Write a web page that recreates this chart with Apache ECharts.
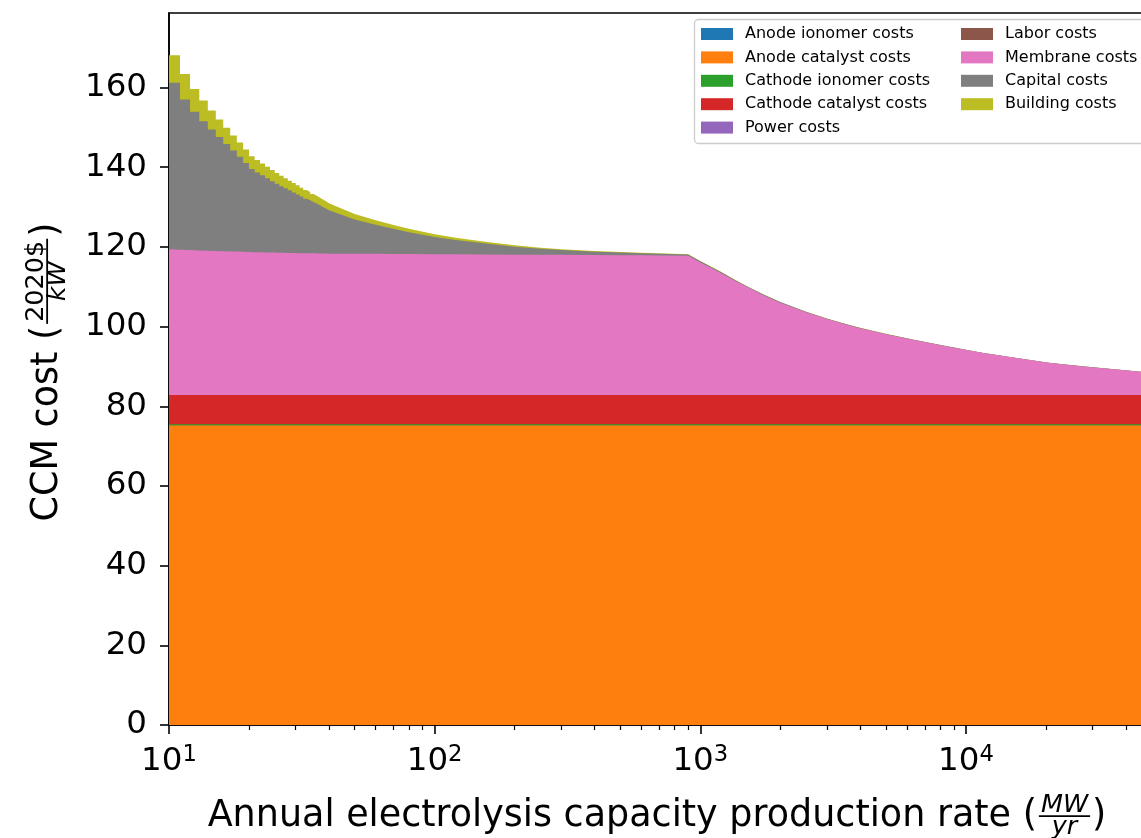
<!DOCTYPE html>
<html>
<head>
<meta charset="utf-8">
<script src="https://cdn.jsdelivr.net/npm/echarts@6/dist/echarts.min.js"></script>
<style>
  html, body { margin: 0; padding: 0; background: #ffffff; }
  #chart { width: 1141px; height: 838px; }
</style>
</head>
<body>
<div id="chart"></div>
<script>
// Annual electrolysis capacity production rate (MW/yr)
const productionRate = [
  10, 11, 12, 13, 14, 15, 16, 17, 18, 19, 20, 21, 22, 23, 24, 25, 26, 27, 28, 29, 30,
  31, 32, 33, 34, 35, 36, 37, 38, 39, 40,
  50, 60, 70, 80, 100, 120, 150, 200, 250, 300, 400, 500, 600, 900,
  1000, 1100, 1200, 1350, 1500, 1750, 2000, 2500, 3000, 3500, 4000, 5000, 6500, 8500,
  11500, 15500, 20500, 27500, 37000, 50000
];
// Integer rates 10..40 are discrete production steps (index of the last stepped point)
const lastStepIndex = 30;

// Cost components (2020$/kW)
const anodeIonomerCost = 0;
const anodeCatalystCost = 75.2;
const cathodeIonomerCost = 0.3;
const cathodeCatalystCost = 7.3;
const powerCost = 0;
const laborCost = 0;

const membraneCost = [
  36.6, 36.5, 36.4, 36.32, 36.25, 36.18, 36.12, 36.06, 36.01, 35.96, 35.92, 35.88, 35.85, 35.82,
  35.79, 35.76, 35.73, 35.71, 35.69, 35.67, 35.65, 35.63, 35.61, 35.6, 35.58, 35.57, 35.55,
  35.54, 35.53, 35.52, 35.5,
  35.47, 35.45, 35.43, 35.4, 35.35, 35.33, 35.3, 35.25, 35.22, 35.2, 35.15, 35.12, 35.1, 35.0,
  33.3, 31.9, 30.6, 28.7, 27.1, 24.9, 23.2, 20.8, 19.1, 17.8, 16.8, 15.3, 13.7, 12.2,
  10.6, 9.3, 8.1, 7.2, 6.4, 5.6
];
const capitalCost = [
  41.8, 37.7, 34.7, 32.4, 30.4, 28.6, 26.9, 25.3, 23.8, 22.3, 20.8, 20.0, 19.3, 18.6, 17.9,
  17.3, 16.7, 16.2, 15.7, 15.2, 14.7, 14.2, 13.7, 13.3, 12.9, 12.5, 12.1, 11.7, 11.3, 10.9, 10.6,
  8.6, 7.3, 6.3, 5.5, 4.3, 3.6, 2.85, 2.0, 1.5, 1.2, 0.85, 0.65, 0.5, 0.3,
  0.27, 0.25, 0.23, 0.2, 0.18, 0.16, 0.14, 0.11, 0.09, 0.08, 0.07, 0.055, 0.042, 0.032,
  0.024, 0.018, 0.013, 0.01, 0.008, 0.006
];
const buildingCost = [
  6.9, 6.4, 5.7, 5.2, 4.8, 4.4, 4.1, 3.8, 3.6, 3.4, 3.2, 3.1, 3.0, 2.9, 2.8, 2.7, 2.6, 2.5,
  2.4, 2.35, 2.3, 2.2, 2.15, 2.1, 2.0, 1.95, 1.9, 1.85, 1.8, 1.75, 1.7,
  1.36, 1.14, 0.98, 0.86, 0.69, 0.58, 0.46, 0.35, 0.28, 0.23, 0.17, 0.14, 0.11, 0.08,
  0.07, 0.065, 0.06, 0.055, 0.05, 0.043, 0.037, 0.03, 0.025, 0.021, 0.018, 0.015, 0.011, 0.009,
  0.006, 0.005, 0.0036, 0.0027, 0.002, 0.0014
];

// Axis ticks
const xMajorTicks = [10, 100, 1000, 10000];
const xMinorTicks = [
  20, 30, 40, 50, 60, 70, 80, 90,
  200, 300, 400, 500, 600, 700, 800, 900,
  2000, 3000, 4000, 5000, 6000, 7000, 8000, 9000,
  20000, 30000, 40000
];
const yTicks = [0, 20, 40, 60, 80, 100, 120, 140, 160];

const FONT = "'DejaVu Sans'";
const TICK_SIZE = 32.5;
const LABEL_SIZE = 36.5;
const FRAC_SIZE = 25.5;

// Layers from bottom to top of the stack
const constant = v => productionRate.map(() => v);
const layers = [
  { name: 'Anode ionomer costs', color: '#1f77b4', values: constant(anodeIonomerCost) },
  { name: 'Anode catalyst costs', color: '#ff7f0e', values: constant(anodeCatalystCost) },
  { name: 'Cathode ionomer costs', color: '#2ca02c', values: constant(cathodeIonomerCost) },
  { name: 'Cathode catalyst costs', color: '#d62728', values: constant(cathodeCatalystCost) },
  { name: 'Power costs', color: '#9467bd', values: constant(powerCost) },
  { name: 'Labor costs', color: '#8c564b', values: constant(laborCost) },
  { name: 'Membrane costs', color: '#e377c2', values: membraneCost },
  { name: 'Capital costs', color: '#7f7f7f', values: capitalCost, stepped: true },
  { name: 'Building costs', color: '#bcbd22', values: buildingCost, stepped: true }
];

// Running totals: each layer is filled from the axis up to its cumulative top,
// drawn from the top layer downwards so lower layers cover the ones above.
let running = constant(0);
layers.forEach(l => {
  running = running.map((s, i) => s + l.values[i]);
  l.top = running.slice();
});

// Stepped layers hold each integer-rate value until the next integer rate.
function layerPath(l) {
  if (!l.stepped) return productionRate.map((x, i) => [x, l.top[i]]);
  const pts = [];
  for (let i = 0; i < lastStepIndex; i++) {
    pts.push([productionRate[i], l.top[i]]);
    pts.push([productionRate[i + 1], l.top[i]]);
  }
  for (let i = lastStepIndex; i < productionRate.length; i++) {
    pts.push([productionRate[i], l.top[i]]);
  }
  return pts;
}

const series = layers.slice().reverse().map(l => ({
  name: l.name,
  type: 'line',
  symbol: 'none',
  showSymbol: false,
  silent: true,
  lineStyle: { width: 0, color: l.color },
  itemStyle: { color: l.color },
  areaStyle: { color: l.color, opacity: 1 },
  emphasis: { disabled: true },
  xAxisIndex: 0,
  yAxisIndex: 0,
  data: layerPath(l)
}));

// Text measuring for the axis titles with stacked fractions
const mctx = document.createElement('canvas').getContext('2d');
function textWidth(t, font) { mctx.font = font; mctx.textBaseline = 'alphabetic'; return mctx.measureText(t).width; }
function middleOffset(font) {
  mctx.font = font;
  mctx.textBaseline = 'alphabetic';
  const a = mctx.measureText('H').actualBoundingBoxAscent;
  mctx.textBaseline = 'middle';
  const b = mctx.measureText('H').actualBoundingBoxAscent;
  mctx.textBaseline = 'alphabetic';
  return a - b;
}
function textAt(text, x, baseline, font) {
  return {
    type: 'text', x: x, y: baseline - middleOffset(font),
    style: { text: text, font: font, fill: '#000000', align: 'left', verticalAlign: 'middle' }
  };
}
function titleWithFraction(pre, num, numItalic, den, denItalic, post) {
  const mainFont = LABEL_SIZE + 'px ' + FONT;
  const numFont = (numItalic ? 'italic ' : '') + FRAC_SIZE + 'px ' + FONT;
  const denFont = (denItalic ? 'italic ' : '') + FRAC_SIZE + 'px ' + FONT;
  const w1 = textWidth(pre, mainFont);
  const wn = textWidth(num, numFont);
  const wd = textWidth(den, denFont);
  const bw = Math.max(wn, wd) + 4;
  const fx = w1 + 2;
  const barY = -0.27 * LABEL_SIZE;
  const children = [
    textAt(pre, 0, 0, mainFont),
    textAt(num, fx + (bw - wn) / 2, barY - 4, numFont),
    { type: 'rect', shape: { x: fx, y: barY - 0.9, width: bw, height: 1.8 }, style: { fill: '#000000' } },
    textAt(den, fx + (bw - wd) / 2, barY + 18, denFont),
    textAt(post, fx + bw + 2, 0, mainFont)
  ];
  return { children: children, width: fx + bw + 2 + textWidth(post, mainFont) };
}

const xTitle = titleWithFraction('Annual electrolysis capacity production rate (', 'MW', true, 'yr', true, ')');
const yTitle = titleWithFraction('CCM cost (', '2020$', false, 'kW', true, ')');

const legendNames = layers.map(l => l.name);
const legendBase = {
  orient: 'vertical',
  top: 26,
  padding: 0,
  icon: 'rect',
  itemWidth: 32,
  itemHeight: 12,
  itemGap: 7.4,
  selectedMode: false,
  itemStyle: { borderWidth: 0 },
  textStyle: { fontFamily: FONT, fontSize: 16, color: '#000000', lineHeight: 16, padding: [0, 0, 0, 7] }
};

const chart = echarts.init(document.getElementById('chart'), null, { renderer: 'canvas' });
chart.setOption({
  animation: false,
  backgroundColor: '#ffffff',
  grid: {
    left: 169, right: -2, top: 13, bottom: 113,
    show: true, borderColor: '#000000', borderWidth: 1.6, backgroundColor: 'transparent',
    outerBoundsMode: 'none', containLabel: false
  },
  legend: [
    Object.assign({}, legendBase, { left: 701, data: legendNames.slice(0, 5) }),
    Object.assign({}, legendBase, { left: 961, data: legendNames.slice(5) })
  ],
  xAxis: [
    {
      type: 'log', logBase: 10, min: 10, max: 46400,
      axisLine: { show: true, lineStyle: { color: '#000000', width: 1.6 } },
      axisTick: { show: true, customValues: xMajorTicks, length: 9, lineStyle: { color: '#000000', width: 1.6 } },
      axisLabel: {
        show: true, customValues: xMajorTicks, margin: 19,
        formatter: v => '{b|10}{s|' + Math.round(Math.log10(v)) + '}',
        rich: {
          b: { fontFamily: FONT, fontSize: TICK_SIZE, color: '#000000', lineHeight: 36 },
          s: { fontFamily: FONT, fontSize: 22.7, color: '#000000', lineHeight: 24, verticalAlign: 'top' }
        }
      },
      splitLine: { show: false },
      minorTick: { show: false }
    },
    {
      type: 'log', logBase: 10, min: 10, max: 46400, position: 'bottom', gridIndex: 0,
      axisLine: { show: false },
      axisTick: { show: true, customValues: xMinorTicks, length: 5, lineStyle: { color: '#000000', width: 1.2 } },
      axisLabel: { show: false },
      splitLine: { show: false }
    }
  ],
  yAxis: {
    type: 'value', min: 0, max: 178.7,
    axisLine: { show: true, lineStyle: { color: '#000000', width: 1.6 } },
    axisTick: { show: true, customValues: yTicks, length: 9, lineStyle: { color: '#000000', width: 1.6 } },
    axisLabel: {
      show: true, customValues: yTicks, margin: 22,
      fontFamily: FONT, fontSize: TICK_SIZE, color: '#000000'
    },
    splitLine: { show: false }
  },
  graphic: [
    {
      type: 'rect', z: 3,
      shape: { x: 694.5, y: 19.5, width: 480, height: 124, r: 4 },
      style: { fill: 'rgba(255,255,255,0.8)', stroke: '#cccccc', lineWidth: 1.3 }
    },
    { type: 'group', x: 657 - xTitle.width / 2, y: 826, children: xTitle.children },
    { type: 'group', x: 57, y: 372 + yTitle.width / 2, rotation: Math.PI / 2, children: yTitle.children }
  ],
  series: series
});
</script>
</body>
</html>
